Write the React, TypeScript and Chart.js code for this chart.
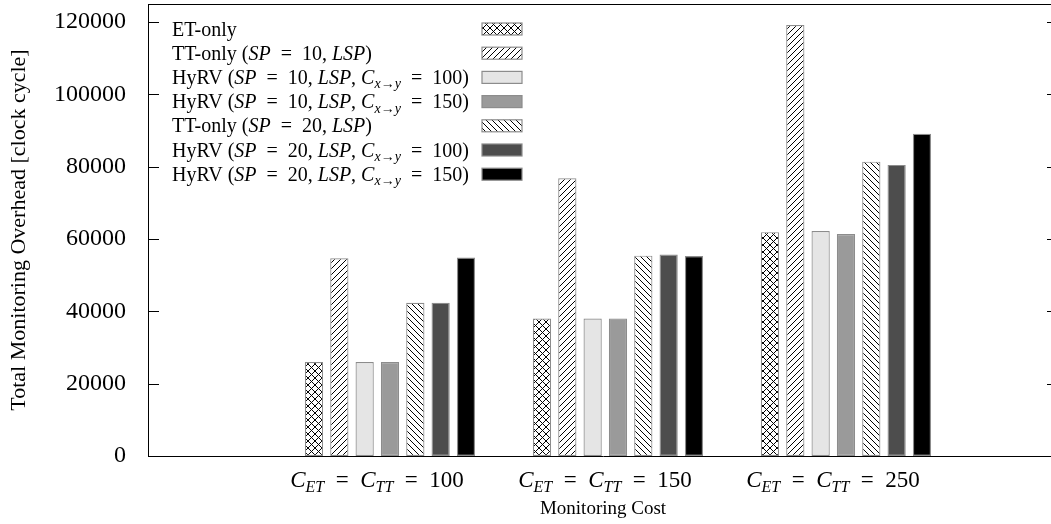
import { useEffect, useRef } from 'react';
import { Chart, registerables } from 'chart.js';

Chart.register(...registerables);

// Group positions on the x axis and their monitoring costs
const groupPositions = [0, 1, 2];
const monitoringCosts = ['100', '150', '250'];
const yTickValues = [0, 20000, 40000, 60000, 80000, 100000, 120000];

// Total monitoring overhead [clock cycle] per configuration
const etOnly = [26000, 38000, 61900];
const ttOnlySp10 = [54700, 76800, 119200];
const hyrvSp10C100 = [26000, 38000, 62200];
const hyrvSp10C150 = [26000, 38000, 61400];
const ttOnlySp20 = [42400, 55400, 81400];
const hyrvSp20C100 = [42400, 55700, 80500];
const hyrvSp20C150 = [54900, 55300, 89100];

const seriesNames = [
  'ET-only',
  'TT-only (SP = 10, LSP)',
  'HyRV (SP = 10, LSP, Cx→y = 100)',
  'HyRV (SP = 10, LSP, Cx→y = 150)',
  'TT-only (SP = 20, LSP)',
  'HyRV (SP = 20, LSP, Cx→y = 100)',
  'HyRV (SP = 20, LSP, Cx→y = 150)',
];
const seriesValues = [etOnly, ttOnlySp10, hyrvSp10C100, hyrvSp10C150, ttOnlySp20, hyrvSp20C100, hyrvSp20C150];

const FONT = "'Liberation Serif', 'Times New Roman', serif";
const EQ = '\u2002=\u2002';

type Seg = { t: string; it?: boolean; sub?: boolean };

const ttLabel = (sp: number): Seg[] => [
  { t: 'TT-only (' }, { t: 'SP', it: true }, { t: `${EQ}${sp}, ` }, { t: 'LSP', it: true }, { t: ')' },
];
const hyrvLabel = (sp: number, c: number): Seg[] => [
  { t: 'HyRV (' }, { t: 'SP', it: true }, { t: `${EQ}${sp}, ` }, { t: 'LSP', it: true }, { t: ', ' },
  { t: 'C', it: true }, { t: 'x', it: true, sub: true }, { t: '→', sub: true }, { t: 'y', it: true, sub: true },
  { t: `${EQ}${c})` },
];
const legendLabels: Seg[][] = [
  [{ t: 'ET-only' }],
  ttLabel(10),
  hyrvLabel(10, 100),
  hyrvLabel(10, 150),
  ttLabel(20),
  hyrvLabel(20, 100),
  hyrvLabel(20, 150),
];
const costLabel = (cost: string): Seg[] => [
  { t: 'C', it: true }, { t: 'ET', it: true, sub: true }, { t: EQ },
  { t: 'C', it: true }, { t: 'TT', it: true, sub: true }, { t: `${EQ}${cost}` },
];

function makeHatch(kind: 'cross' | 'fwd' | 'back', size: number): CanvasPattern | string {
  const c = document.createElement('canvas');
  c.width = size;
  c.height = size;
  const g = c.getContext('2d');
  if (!g) return '#fff';
  g.fillStyle = '#fff';
  g.fillRect(0, 0, size, size);
  g.strokeStyle = '#000';
  g.lineWidth = 1;
  g.beginPath();
  if (kind === 'fwd' || kind === 'cross') {
    g.moveTo(-1, size + 1); g.lineTo(size + 1, -1);
    g.moveTo(-1, 1); g.lineTo(1, -1);
    g.moveTo(size - 1, size + 1); g.lineTo(size + 1, size - 1);
  }
  if (kind === 'back' || kind === 'cross') {
    g.moveTo(-1, -1); g.lineTo(size + 1, size + 1);
    g.moveTo(-1, size - 1); g.lineTo(1, size + 1);
    g.moveTo(size - 1, -1); g.lineTo(size + 1, 1);
  }
  g.stroke();
  return g.createPattern(c, 'repeat') || '#fff';
}

function drawRich(ctx: CanvasRenderingContext2D, segs: Seg[], x: number, baseline: number, size: number, align: 'left' | 'center') {
  const fontFor = (s: Seg) => `${s.it ? 'italic ' : ''}${s.sub ? Math.round(size * 0.7) : size}px ${FONT}`;
  let total = 0;
  for (const s of segs) {
    ctx.font = fontFor(s);
    total += ctx.measureText(s.t).width;
  }
  let cx = align === 'center' ? x - total / 2 : x;
  ctx.textAlign = 'left';
  ctx.textBaseline = 'alphabetic';
  ctx.fillStyle = '#000';
  for (const s of segs) {
    ctx.font = fontFor(s);
    ctx.fillText(s.t, cx, baseline + (s.sub ? size * 0.22 : 0));
    cx += ctx.measureText(s.t).width;
  }
}

export default function App() {
  const ref = useRef<HTMLCanvasElement | null>(null);

  useEffect(() => {
    const canvas = ref.current;
    if (!canvas) return;

    const fills: (CanvasPattern | string)[] = [
      makeHatch('cross', 7),
      makeHatch('fwd', 6),
      '#e5e5e5',
      '#9a9a9a',
      makeHatch('back', 6),
      '#4d4d4d',
      '#000000',
    ];
    const edge = '#8c8c8c';

    const overlay = {
      id: 'frameAndLegend',
      afterDatasetsDraw(chart: any) {
        const { ctx, chartArea } = chart;
        const { left, right, top, bottom } = chartArea;
        const y = chart.scales.y;
        ctx.save();
        ctx.strokeStyle = '#000';
        ctx.lineWidth = 1;
        ctx.beginPath();
        ctx.moveTo(left, top + 0.5);
        ctx.lineTo(right, top + 0.5);
        ctx.moveTo(right - 0.5, top);
        ctx.lineTo(right - 0.5, bottom);
        for (const v of yTickValues) {
          const py = Math.round(y.getPixelForValue(v)) + 0.5;
          ctx.moveTo(left, py);
          ctx.lineTo(left + 11, py);
          ctx.moveTo(right, py);
          ctx.lineTo(right - 11, py);
        }
        ctx.stroke();
        ctx.restore();
      },
      afterDraw(chart: any) {
        const { ctx } = chart;
        const x = chart.scales.x;
        ctx.save();
        // legend
        legendLabels.forEach((segs, i) => {
          const cy = 29 + i * 24.2;
          drawRich(ctx, segs, 172, cy + 6.5, 20, 'left');
          ctx.fillStyle = fills[i];
          ctx.fillRect(482, cy - 6, 40, 12);
          ctx.strokeStyle = edge;
          ctx.lineWidth = 1.2;
          ctx.strokeRect(482, cy - 6, 40, 12);
        });
        // category labels under each group
        groupPositions.forEach((g, i) => {
          const px = x.getPixelForValue(g) - 13;
          drawRich(ctx, costLabel(monitoringCosts[i]), px, 487, 23, 'center');
        });
        ctx.restore();
      },
    };

    const chart = new Chart(canvas, {
      type: 'bar',
      data: {
        datasets: seriesValues.map((vals, k) => ({
          label: seriesNames[k],
          data: groupPositions.map((gx, i) => ({ x: gx, y: vals[i] })),
          backgroundColor: fills[k] as any,
          borderColor: edge,
          borderWidth: 1.2,
          borderSkipped: false,
          categoryPercentage: 7 / 9,
          barPercentage: 0.72,
        })),
      },
      options: {
        responsive: false,
        animation: false,
        events: [],
        layout: { padding: { left: 0, top: 4, right: 4, bottom: 0 } },
        plugins: { legend: { display: false }, tooltip: { enabled: false } },
        scales: {
          x: {
            type: 'linear',
            min: -1.0614,
            max: 2.93,
            offset: false,
            grid: { display: false, drawTicks: false },
            border: { display: true, color: '#000', width: 1 },
            ticks: { display: false },
            afterBuildTicks: (s: any) => { s.ticks = groupPositions.map((v) => ({ value: v })); },
            afterFit: (s: any) => {
              s.height = 68;
              s.paddingLeft = 0;
              s.paddingRight = 0;
            },
            title: {
              display: true,
              text: 'Monitoring Cost',
              color: '#000',
              font: { family: FONT, size: 19 },
              padding: { top: 0, bottom: 4 },
            },
          },
          y: {
            type: 'linear',
            min: 0,
            max: 125000,
            grid: { display: false, drawTicks: false },
            border: { display: true, color: '#000', width: 1 },
            afterBuildTicks: (s: any) => { s.ticks = yTickValues.map((v) => ({ value: v })); },
            afterFit: (s: any) => {
              s.width = 148;
              s.paddingTop = 0;
              s.paddingBottom = 0;
            },
            ticks: {
              color: '#000',
              padding: 22,
              font: { family: FONT, size: 24 },
              callback: (v: any) => String(v),
            },
            title: {
              display: true,
              text: 'Total Monitoring Overhead [clock cycle]',
              color: '#000',
              font: { family: FONT, size: 22 },
              padding: { top: 6, bottom: 0 },
            },
          },
        },
      },
      plugins: [overlay],
    });

    return () => chart.destroy();
  }, []);

  return (
    <div style={{ position: 'fixed', left: 0, top: 0, width: 1051, height: 524, overflow: 'hidden', background: '#fff' }}>
      <canvas ref={ref} width={1062} height={524} style={{ display: 'block' }} />
    </div>
  );
}
